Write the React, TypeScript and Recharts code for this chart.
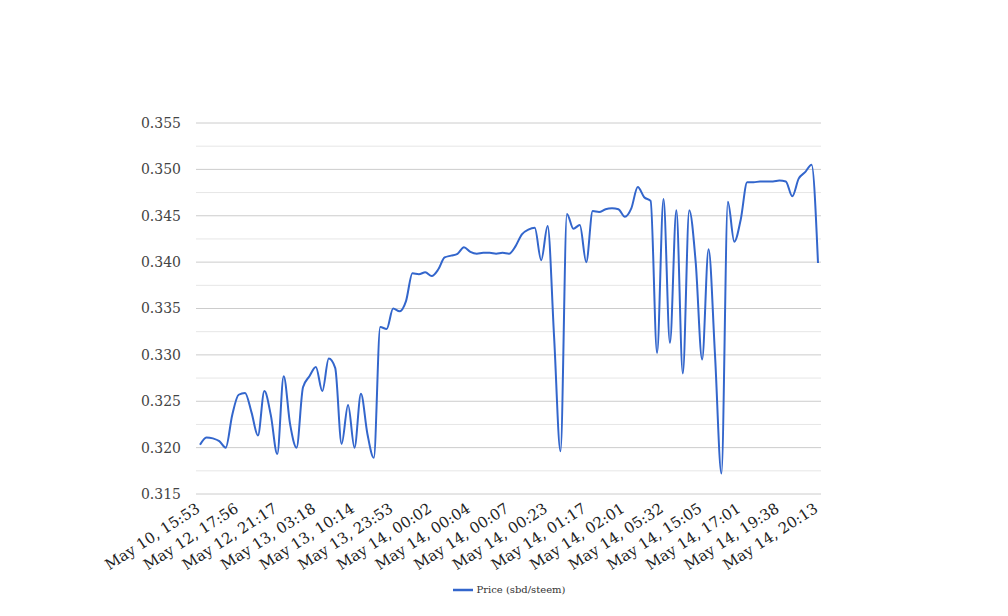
import { LineChart, Line, XAxis, YAxis, CartesianGrid, ReferenceLine, Legend } from 'recharts'

// x labels, one every LABEL_STEP points
const tickLabels = [
  'May 10, 15:53',
  'May 12, 17:56',
  'May 12, 21:17',
  'May 13, 03:18',
  'May 13, 10:14',
  'May 13, 23:53',
  'May 14, 00:02',
  'May 14, 00:04',
  'May 14, 00:07',
  'May 14, 00:23',
  'May 14, 01:17',
  'May 14, 02:01',
  'May 14, 05:32',
  'May 14, 15:05',
  'May 14, 17:01',
  'May 14, 19:38',
  'May 14, 20:13',
]
const LABEL_STEP = 6

// price (sbd/steem) per trade
const prices = [
  0.3203, 0.3211, 0.3210, 0.3207, 0.3200, 0.3235, 0.3257, 0.3259, 0.3238, 0.3213,
  0.3261, 0.3235, 0.3193, 0.3277, 0.3225, 0.3200, 0.3265, 0.3277, 0.3287, 0.3261,
  0.3296, 0.3286, 0.3204, 0.3246, 0.3200, 0.3258, 0.3215, 0.3189, 0.3330, 0.3328,
  0.3350, 0.3347, 0.3358, 0.3388, 0.3387, 0.3389, 0.3385, 0.3392, 0.3405, 0.3407,
  0.3409, 0.3416, 0.3411, 0.3409, 0.3410, 0.3410, 0.3409, 0.3410, 0.3409, 0.3417,
  0.3430, 0.3435, 0.3437, 0.3402, 0.3439, 0.3320, 0.3196, 0.3452, 0.3436, 0.3440,
  0.3400, 0.3455, 0.3454, 0.3457, 0.3458, 0.3457, 0.3449, 0.3458, 0.3481, 0.3470,
  0.3466, 0.3302, 0.3468, 0.3313, 0.3456, 0.3280, 0.3456, 0.3400, 0.3295, 0.3414,
  0.3300, 0.3172, 0.3465, 0.3422, 0.3446, 0.3486, 0.3486, 0.3487, 0.3487, 0.3487,
  0.3488, 0.3487, 0.3471, 0.3490, 0.3497, 0.3505, 0.3399,
]

const yTicks = [0.315, 0.32, 0.325, 0.33, 0.335, 0.34, 0.345, 0.35, 0.355]
const yMinor = [0.3175, 0.3225, 0.3275, 0.3325, 0.3375, 0.3425, 0.3475, 0.3525]

const data = prices.map((price, i) => ({ i, price }))
const xTicks = tickLabels.map((_, k) => k * LABEL_STEP)

const FONT = '"DejaVu Serif", serif'

function XTick({ x, y, payload }: any) {
  const label = tickLabels[payload.value / LABEL_STEP] ?? ''
  const tx = x + 1
  const ty = y + 9
  return (
    <text
      x={tx}
      y={ty}
      textAnchor="end"
      transform={`rotate(-33, ${tx}, ${ty})`}
      fontSize={15}
      fontFamily={FONT}
      fill="#222"
    >
      {label}
    </text>
  )
}

export default function App() {
  return (
    <div style={{ position: 'absolute', left: 0, top: 0, background: '#fff' }}>
      <LineChart
        width={1008}
        height={616}
        data={data}
        margin={{ top: 123, right: 187, left: 0, bottom: 22 }}
      >
        {yMinor.map((v) => (
          <ReferenceLine key={v} y={v} stroke="#e6e6e6" strokeWidth={1} />
        ))}
        <CartesianGrid vertical={false} stroke="#cccccc" />
        <XAxis
          dataKey="i"
          type="number"
          domain={[0, prices.length - 1]}
          ticks={xTicks}
          interval={0}
          padding={{ left: 4, right: 3 }}
          axisLine={false}
          tickLine={false}
          height={80}
          tick={<XTick />}
        />
        <YAxis
          domain={[0.315, 0.355]}
          ticks={yTicks}
          tickFormatter={(v: number) => v.toFixed(3)}
          axisLine={false}
          tickLine={false}
          tickSize={0}
          tickMargin={15}
          width={196}
          tick={{ fontSize: 14, fontFamily: FONT, fill: '#444' }}
          allowDataOverflow
        />
        <Legend
          verticalAlign="bottom"
          iconType="plainline"
          iconSize={20}
          wrapperStyle={{ fontSize: 10, fontFamily: FONT, left: 15, width: 998, top: 580 }}
          formatter={(value) => <span style={{ color: '#333' }}>{value}</span>}
        />
        <Line
          type="monotone"
          dataKey="price"
          name="Price (sbd/steem)"
          stroke="#3366cc"
          strokeWidth={2}
          dot={false}
          isAnimationActive={false}
        />
      </LineChart>
    </div>
  )
}
